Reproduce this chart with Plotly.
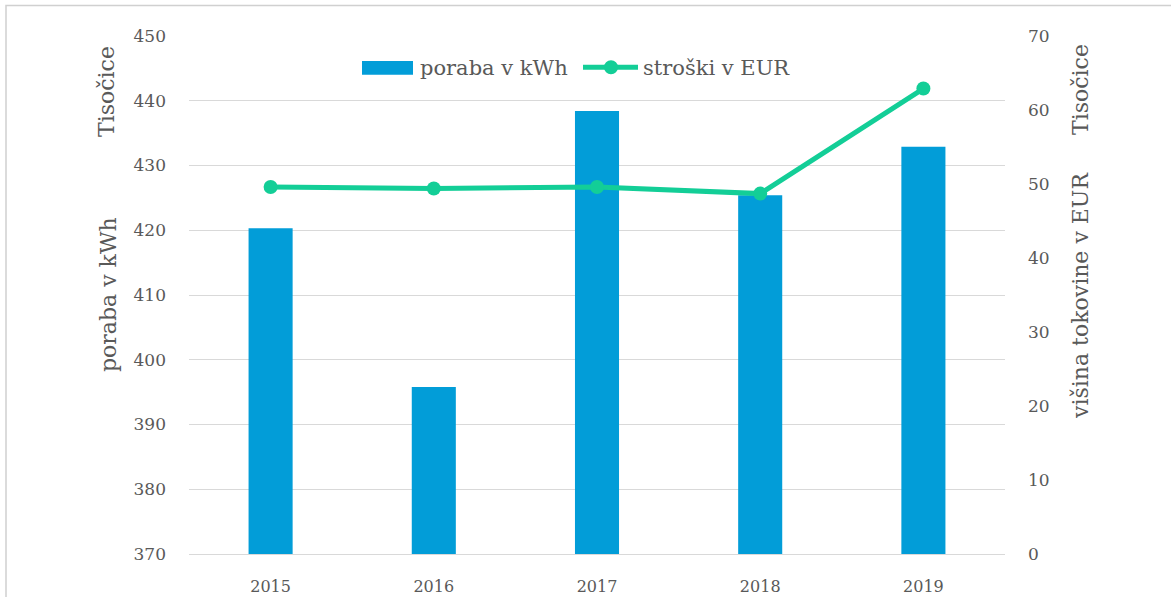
import plotly.graph_objects as go

# Annual electricity consumption (thousand kWh) and costs (thousand EUR)
years = ["2015", "2016", "2017", "2018", "2019"]
poraba_kwh = [420.3, 395.8, 438.4, 425.4, 432.9]
stroski_eur = [49.6, 49.4, 49.6, 48.7, 62.9]

left_ticks = [370, 380, 390, 400, 410, 420, 430, 440, 450]
right_ticks = [0, 10, 20, 30, 40, 50, 60, 70]

BAR = "#029DD8"
LINE = "#13CE97"
TEXT = "#595959"
GRID = "#D9D9D9"
FONT = "DejaVu Serif"

W, H = 1171, 597
ML, MR, MT, MB = 189, 166, 36, 43
PW, PH = W - ML - MR, H - MT - MB


def px(x):
    return (x - ML) / PW


def py(y):
    return (H - MB - y) / PH


fig = go.Figure()
fig.add_trace(go.Bar(x=years, y=poraba_kwh, marker_color=BAR,
                     marker_line_width=0, name="poraba v kWh",
                     showlegend=False))
fig.add_trace(go.Scatter(x=years, y=stroski_eur, yaxis="y2",
                         mode="lines+markers", name="stroški v EUR",
                         line=dict(color=LINE, width=5),
                         marker=dict(color=LINE, size=14),
                         showlegend=False))

fig.update_layout(
    width=W, height=H,
    margin=dict(l=ML, r=MR, t=MT, b=MB, autoexpand=False),
    paper_bgcolor="white", plot_bgcolor="white",
    font=dict(family=FONT, color=TEXT),
    bargap=0.73,
    xaxis=dict(type="category", showgrid=False, showline=True,
               linecolor=GRID, linewidth=1.3, ticks="", automargin=False,
               tickfont=dict(size=16, color=TEXT),
               ticklabelstandoff=18),
    yaxis=dict(range=[370, 450], tickvals=left_ticks, automargin=False,
               showgrid=True, gridcolor=GRID, gridwidth=1.3,
               zeroline=False, showline=False, ticks="",
               tickfont=dict(size=17, color=TEXT),
               ticklabelstandoff=22),
    yaxis2=dict(range=[0, 70], tickvals=right_ticks, overlaying="y",
                side="right", showgrid=False, zeroline=False,
                showline=False, ticks="", automargin=False,
                tickfont=dict(size=17, color=TEXT),
                ticklabelstandoff=22),
)

# Outer chart border
fig.add_shape(type="rect", xref="paper", yref="paper",
              x0=px(6), x1=px(1200), y0=py(620), y1=py(5.5),
              line=dict(color="#D0D0D0", width=1.5), fillcolor="rgba(0,0,0,0)",
              layer="below")

# Axis titles and display-unit labels
ann = dict(xref="paper", yref="paper", showarrow=False, textangle=-90,
           font=dict(size=22, color=TEXT, family=FONT),
           xanchor="center", yanchor="middle")
fig.add_annotation(text="poraba v kWh", x=px(108), y=py(295), **ann)
fig.add_annotation(text="Tisočice", x=px(106), y=py(92), **ann)
fig.add_annotation(text="višina tokovine v EUR", x=px(1080), y=py(296), **ann)
fig.add_annotation(text="Tisočice", x=px(1080), y=py(90), **ann)

# Legend
fig.add_shape(type="rect", xref="paper", yref="paper",
              x0=px(362), x1=px(413), y0=py(74.7), y1=py(61),
              fillcolor=BAR, line=dict(width=0))
fig.add_annotation(text="poraba v kWh", x=px(418), y=py(67.5),
                   xref="paper", yref="paper", showarrow=False,
                   xanchor="left", yanchor="middle",
                   font=dict(size=21, color=TEXT, family=FONT))
fig.add_shape(type="line", xref="paper", yref="paper",
              x0=px(583), x1=px(638), y0=py(67.3), y1=py(67.3),
              line=dict(color=LINE, width=5))
fig.add_shape(type="circle", xref="paper", yref="paper",
              x0=px(611 - 7), x1=px(611 + 7), y0=py(67.3 + 7), y1=py(67.3 - 7),
              fillcolor=LINE, line=dict(width=0))
fig.add_annotation(text="stroški v EUR", x=px(641), y=py(67.5),
                   xref="paper", yref="paper", showarrow=False,
                   xanchor="left", yanchor="middle",
                   font=dict(size=21, color=TEXT, family=FONT))

fig.write_html("out.html")
